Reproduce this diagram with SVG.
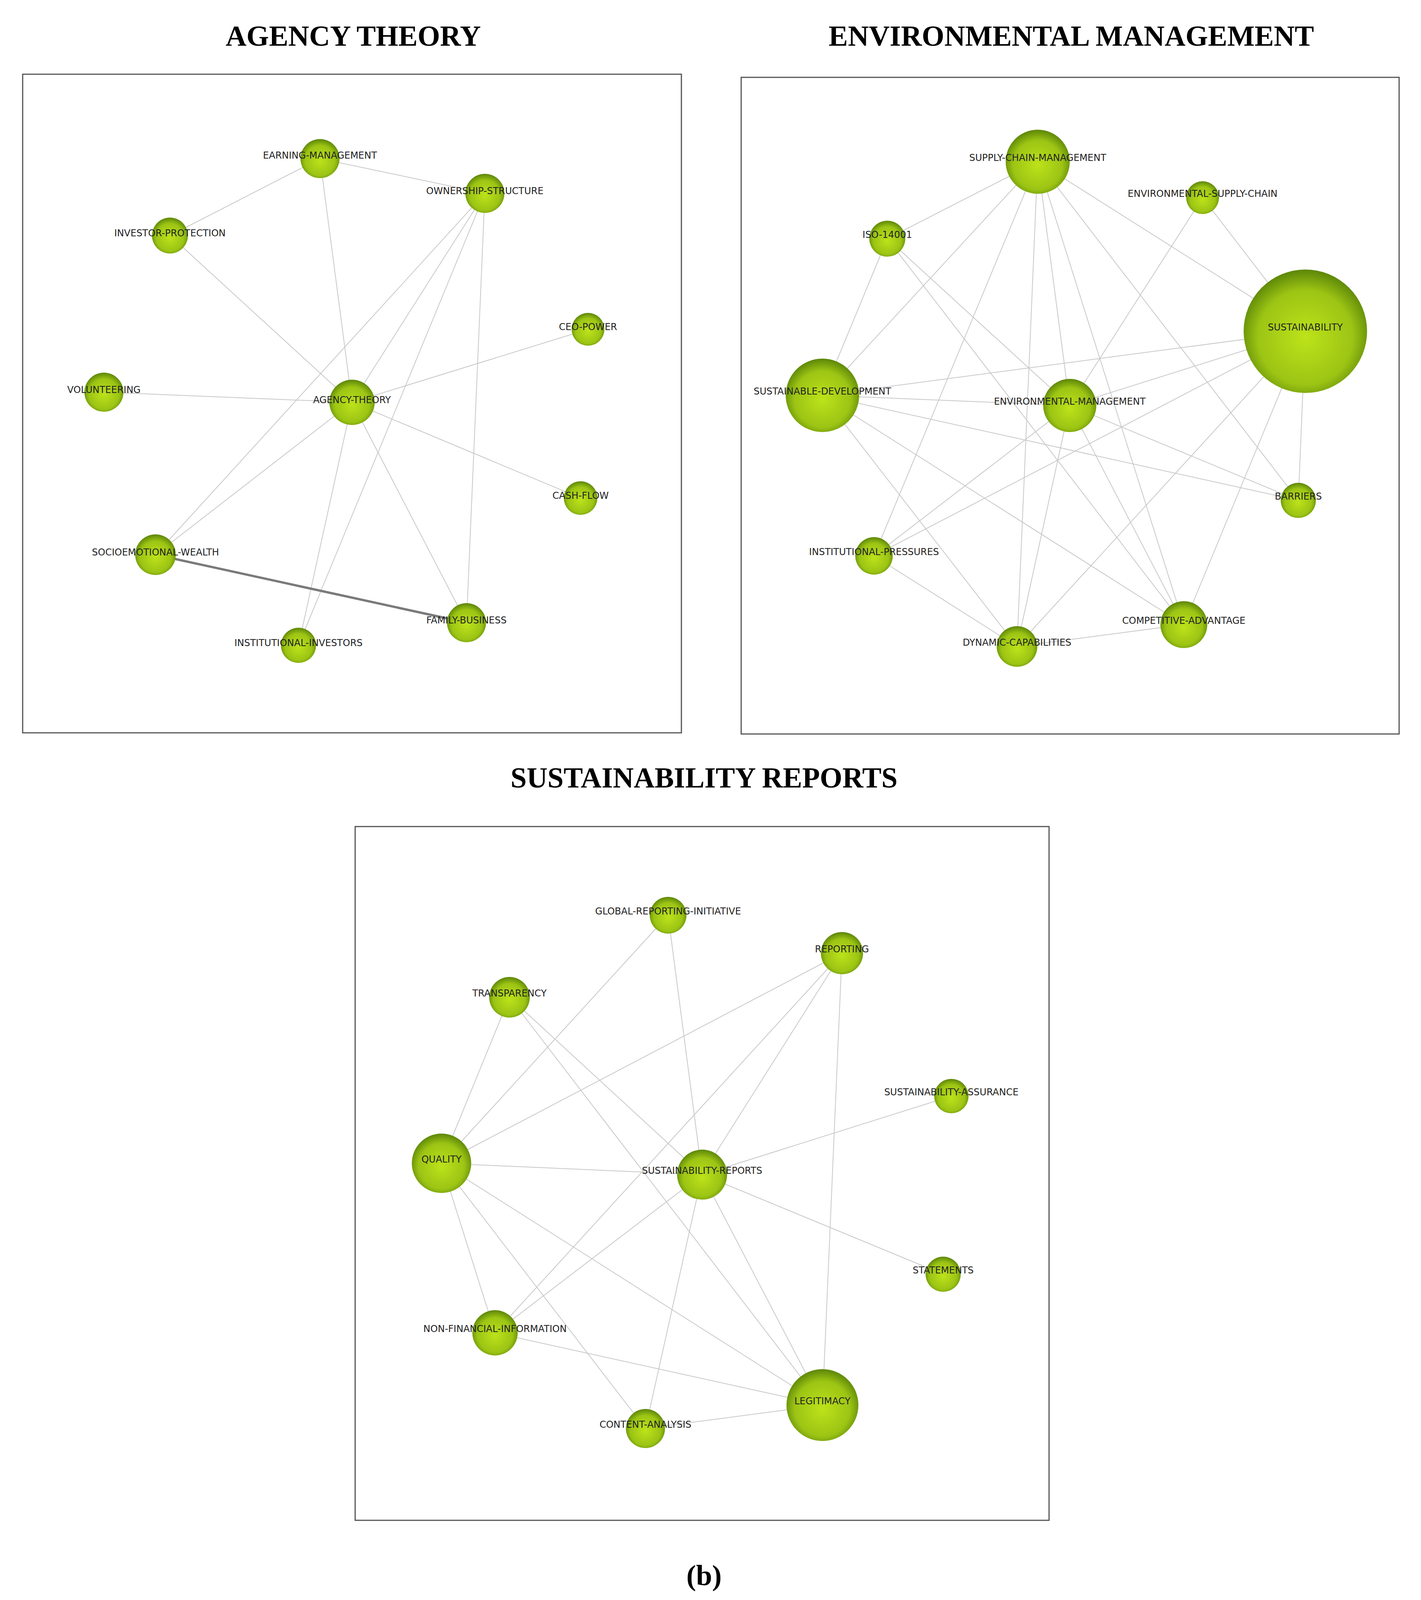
<svg xmlns="http://www.w3.org/2000/svg" width="3637" height="4131" viewBox="0 0 3637 4131">
<style>
.t{font-family:"Liberation Serif",serif;font-weight:bold;font-size:74px;text-anchor:middle}
.l{font-family:"DejaVu Sans",sans-serif;font-size:24px;text-anchor:middle;fill:#222}
.b{fill:none;stroke:#555;stroke-width:3}
.e line{stroke:#c8c8c8;stroke-width:2}
.n{fill:url(#g)}
</style>
<defs><radialGradient id="g" cx="50%" cy="55%" r="55%"><stop offset="0" stop-color="#bde31a"/><stop offset="0.7" stop-color="#9cc414"/><stop offset="1" stop-color="#5c8608"/></radialGradient></defs>
<rect width="3637" height="4131" fill="#fff"/>
<text class="t" x="904" y="117">AGENCY THEORY</text>
<text class="t" x="2742" y="117">ENVIRONMENTAL MANAGEMENT</text>
<text class="t" x="1802" y="2016">SUSTAINABILITY REPORTS</text>
<text class="t" x="1802" y="4058">(b)</text>
<rect class="b" x="58" y="190" width="1686" height="1686"/>
<rect class="b" x="1897" y="198" width="1684" height="1681"/>
<rect class="b" x="909" y="2116" width="1776" height="1776"/>
<g id="connectors" class="e">
<line x1="819" y1="406" x2="435" y2="603"/><line x1="819" y1="406" x2="1241" y2="495"/><line x1="819" y1="406" x2="901" y2="1030"/>
<line x1="435" y1="603" x2="901" y2="1030"/><line x1="1241" y1="495" x2="901" y2="1030"/><line x1="1241" y1="495" x2="398" y2="1420"/>
<line x1="1241" y1="495" x2="764" y2="1652"/><line x1="1241" y1="495" x2="1194" y2="1594"/><line x1="1505" y1="843" x2="901" y2="1030"/>
<line x1="266" y1="1004" x2="901" y2="1030"/><line x1="901" y1="1030" x2="1486" y2="1275"/><line x1="901" y1="1030" x2="398" y2="1420"/>
<line x1="901" y1="1030" x2="764" y2="1652"/><line x1="901" y1="1030" x2="1194" y2="1594"/>
<line x1="398" y1="1420" x2="1194" y2="1594" style="stroke:#7a7a7a;stroke-width:6"/>
<line x1="2656" y1="414" x2="2271" y2="611"/><line x1="2656" y1="414" x2="2105" y2="1012"/><line x1="2656" y1="414" x2="2237" y2="1423"/>
<line x1="2656" y1="414" x2="2738" y2="1038"/><line x1="2656" y1="414" x2="2603" y2="1655"/><line x1="2656" y1="414" x2="3341" y2="848"/>
<line x1="2656" y1="414" x2="3030" y2="1599"/><line x1="2656" y1="414" x2="3323" y2="1281"/><line x1="3078" y1="506" x2="3341" y2="848"/>
<line x1="3078" y1="506" x2="2738" y2="1038"/><line x1="2271" y1="611" x2="2105" y2="1012"/><line x1="2271" y1="611" x2="2738" y2="1038"/>
<line x1="2271" y1="611" x2="3030" y2="1599"/><line x1="3341" y1="848" x2="2105" y2="1012"/><line x1="3341" y1="848" x2="2738" y2="1038"/>
<line x1="3341" y1="848" x2="2237" y2="1423"/><line x1="3341" y1="848" x2="2603" y2="1655"/><line x1="3341" y1="848" x2="3030" y2="1599"/>
<line x1="3341" y1="848" x2="3323" y2="1281"/><line x1="2105" y1="1012" x2="2738" y2="1038"/><line x1="2105" y1="1012" x2="3323" y2="1281"/>
<line x1="2105" y1="1012" x2="2603" y2="1655"/><line x1="2105" y1="1012" x2="3030" y2="1599"/><line x1="2738" y1="1038" x2="3323" y2="1281"/>
<line x1="2738" y1="1038" x2="2237" y2="1423"/><line x1="2738" y1="1038" x2="2603" y2="1655"/><line x1="2738" y1="1038" x2="3030" y2="1599"/>
<line x1="2237" y1="1423" x2="2603" y2="1655"/><line x1="2603" y1="1655" x2="3030" y2="1599"/>
<line x1="1710" y1="2343" x2="1130" y2="2978"/><line x1="1710" y1="2343" x2="1797" y2="3007"/><line x1="2155" y1="2440" x2="1130" y2="2978"/>
<line x1="2155" y1="2440" x2="1797" y2="3007"/><line x1="2155" y1="2440" x2="1267" y2="3412"/><line x1="2155" y1="2440" x2="2105" y2="3597"/>
<line x1="1304" y1="2553" x2="1130" y2="2978"/><line x1="1304" y1="2553" x2="1797" y2="3007"/><line x1="1304" y1="2553" x2="2105" y2="3597"/>
<line x1="2435" y1="2806" x2="1797" y2="3007"/><line x1="1130" y1="2978" x2="1797" y2="3007"/><line x1="1130" y1="2978" x2="1267" y2="3412"/>
<line x1="1130" y1="2978" x2="1652" y2="3657"/><line x1="1130" y1="2978" x2="2105" y2="3597"/><line x1="1797" y1="3007" x2="2414" y2="3262"/>
<line x1="1797" y1="3007" x2="1267" y2="3412"/><line x1="1797" y1="3007" x2="1652" y2="3657"/><line x1="1797" y1="3007" x2="2105" y2="3597"/>
<line x1="1267" y1="3412" x2="2105" y2="3597"/><line x1="1652" y1="3657" x2="2105" y2="3597"/>
</g>
<g id="earning-management"><circle class="n" cx="819" cy="406" r="50"/><text class="l" x="819" y="406">EARNING-MANAGEMENT</text></g>
<g id="ownership-structure"><circle class="n" cx="1241" cy="495" r="50"/><text class="l" x="1241" y="497">OWNERSHIP-STRUCTURE</text></g>
<g id="investor-protection"><circle class="n" cx="435" cy="603" r="46"/><text class="l" x="435" y="605">INVESTOR-PROTECTION</text></g>
<g id="ceo-power"><circle class="n" cx="1505" cy="843" r="42"/><text class="l" x="1505" y="845">CEO-POWER</text></g>
<g id="volunteering"><circle class="n" cx="266" cy="1004" r="50"/><text class="l" x="266" y="1006">VOLUNTEERING</text></g>
<g id="agency-theory"><circle class="n" cx="901" cy="1030" r="58"/><text class="l" x="901" y="1032">AGENCY-THEORY</text></g>
<g id="cash-flow"><circle class="n" cx="1486" cy="1275" r="43"/><text class="l" x="1486" y="1277">CASH-FLOW</text></g>
<g id="socioemotional-wealth"><circle class="n" cx="398" cy="1420" r="52"/><text class="l" x="398" y="1422">SOCIOEMOTIONAL-WEALTH</text></g>
<g id="family-business"><circle class="n" cx="1194" cy="1594" r="50"/><text class="l" x="1194" y="1596">FAMILY-BUSINESS</text></g>
<g id="institutional-investors"><circle class="n" cx="764" cy="1652" r="45"/><text class="l" x="764" y="1654">INSTITUTIONAL-INVESTORS</text></g>
<g id="supply-chain-management"><circle class="n" cx="2656" cy="414" r="82"/><text class="l" x="2656" y="412">SUPPLY-CHAIN-MANAGEMENT</text></g>
<g id="environmental-supply-chain"><circle class="n" cx="3078" cy="506" r="42"/><text class="l" x="3078" y="504">ENVIRONMENTAL-SUPPLY-CHAIN</text></g>
<g id="iso-14001"><circle class="n" cx="2271" cy="611" r="46"/><text class="l" x="2271" y="609">ISO-14001</text></g>
<g id="sustainability"><circle class="n" cx="3341" cy="848" r="158"/><text class="l" x="3341" y="846">SUSTAINABILITY</text></g>
<g id="sustainable-development"><circle class="n" cx="2105" cy="1012" r="94"/><text class="l" x="2105" y="1010">SUSTAINABLE-DEVELOPMENT</text></g>
<g id="environmental-management"><circle class="n" cx="2738" cy="1038" r="68"/><text class="l" x="2738" y="1036">ENVIRONMENTAL-MANAGEMENT</text></g>
<g id="barriers"><circle class="n" cx="3323" cy="1281" r="45"/><text class="l" x="3323" y="1279">BARRIERS</text></g>
<g id="institutional-pressures"><circle class="n" cx="2237" cy="1423" r="48"/><text class="l" x="2237" y="1421">INSTITUTIONAL-PRESSURES</text></g>
<g id="competitive-advantage"><circle class="n" cx="3030" cy="1599" r="60"/><text class="l" x="3030" y="1597">COMPETITIVE-ADVANTAGE</text></g>
<g id="dynamic-capabilities"><circle class="n" cx="2603" cy="1655" r="52"/><text class="l" x="2603" y="1653">DYNAMIC-CAPABILITIES</text></g>
<g id="global-reporting-initiative"><circle class="n" cx="1710" cy="2343" r="47"/><text class="l" x="1710" y="2341">GLOBAL-REPORTING-INITIATIVE</text></g>
<g id="reporting"><circle class="n" cx="2155" cy="2440" r="54"/><text class="l" x="2155" y="2438">REPORTING</text></g>
<g id="transparency"><circle class="n" cx="1304" cy="2553" r="52"/><text class="l" x="1304" y="2551">TRANSPARENCY</text></g>
<g id="sustainability-assurance"><circle class="n" cx="2435" cy="2806" r="44"/><text class="l" x="2435" y="2804">SUSTAINABILITY-ASSURANCE</text></g>
<g id="quality"><circle class="n" cx="1130" cy="2978" r="76"/><text class="l" x="1130" y="2976">QUALITY</text></g>
<g id="sustainability-reports"><circle class="n" cx="1797" cy="3007" r="64"/><text class="l" x="1797" y="3005">SUSTAINABILITY-REPORTS</text></g>
<g id="statements"><circle class="n" cx="2414" cy="3262" r="45"/><text class="l" x="2414" y="3260">STATEMENTS</text></g>
<g id="non-financial-information"><circle class="n" cx="1267" cy="3412" r="58"/><text class="l" x="1267" y="3410">NON-FINANCIAL-INFORMATION</text></g>
<g id="legitimacy"><circle class="n" cx="2105" cy="3597" r="92"/><text class="l" x="2105" y="3595">LEGITIMACY</text></g>
<g id="content-analysis"><circle class="n" cx="1652" cy="3657" r="50"/><text class="l" x="1652" y="3655">CONTENT-ANALYSIS</text></g>
</svg>
